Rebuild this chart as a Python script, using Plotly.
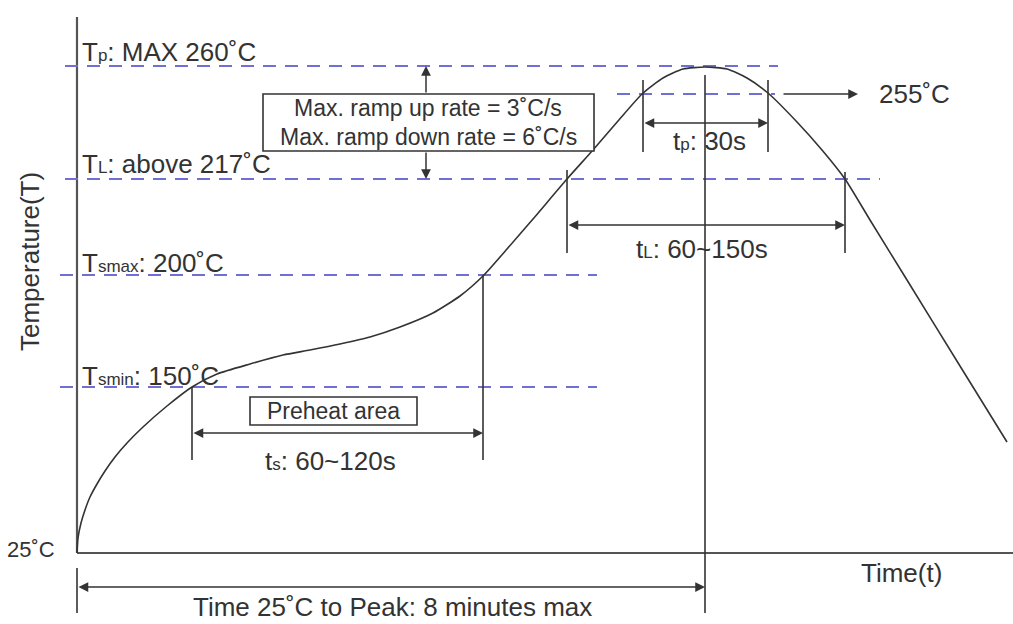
import plotly.graph_objects as go

# Schematic reflow profile: time units to the right of the origin,
# height units above the 25°C baseline (the drawing is not to scale).
profile_time = [0, 1, 4, 8, 13, 20, 28, 38, 50, 66, 90, 115, 140, 173, 206, 233, 263, 293, 323, 356, 383,
                407, 430, 456, 490, 516, 541, 566, 586, 606, 628, 650, 670, 691, 720, 745, 768, 793, 830, 883, 930]
profile_height = [0, 15, 30, 43, 56, 69, 82, 96, 110, 126, 147, 166, 179, 189, 198, 203, 209, 216, 226, 240, 257,
                  278, 304, 334, 374, 403, 432, 460, 475, 484, 486, 484, 475, 460, 431, 403, 374, 333, 273, 187, 111]

level_temps = [260, 255, 217, 200, 150]
level_height = [487, 459, 374, 278, 166]
level_from = [-12, 540, -12, -17, -17]
level_to = [701, 698, 803, 520, 520]

# key times on the schematic
t_smin, t_smax, t_L1, t_p1, t_peak, t_p2, t_L2 = 115, 406, 490, 566, 628, 691, 768

DASH = "#7070d4"
INK = "#333333"
AXIS = "#555555"
FONT = "Liberation Sans, Arial, sans-serif"
SUB = "font-size:17px"
DEG = "˚C"

fig = go.Figure()

# axes
fig.add_trace(go.Scatter(x=[0, 0], y=[536, 0], mode="lines", line=dict(color=AXIS, width=2.2), hoverinfo="skip"))
fig.add_trace(go.Scatter(x=[0, 936], y=[0, 0], mode="lines", line=dict(color=AXIS, width=2.2), hoverinfo="skip"))

# dashed temperature levels
for h, a, b in zip(level_height, level_from, level_to):
    fig.add_trace(go.Scatter(x=[a, b], y=[h, h], mode="lines",
                             line=dict(color=DASH, width=2, dash="13px,9px"), hoverinfo="skip"))

# vertical marker lines
verticals = [
    (t_smin, 166, 93), (t_smax, 278, 93),
    (t_L1, 383, 300), (t_L2, 381, 300),
    (t_p1, 473, 401), (t_p2, 473, 401),
    (t_peak, 478, -60), (0, -15, -60),
]
for x, y0, y1 in verticals:
    fig.add_trace(go.Scatter(x=[x, x], y=[y0, y1], mode="lines",
                             line=dict(color=INK, width=1.6), hoverinfo="skip"))

# profile curve
fig.add_trace(go.Scatter(x=profile_time, y=profile_height, mode="lines",
                         line=dict(color=INK, width=1.6, shape="spline", smoothing=0.6), hoverinfo="skip"))

# boxes
fig.add_shape(type="rect", x0=186, x1=517, y0=402, y1=459, line=dict(color=INK, width=1.6),
              fillcolor="white", layer="above")
fig.add_shape(type="rect", x0=173, x1=340, y0=128, y1=156, line=dict(color=INK, width=1.6),
              fillcolor="white", layer="above")


def arrow(x0, y0, x1, y1, both=False):
    fig.add_annotation(x=x1, y=y1, ax=x0, ay=y0, xref="x", yref="y", axref="x", ayref="y",
                       text="", showarrow=True, arrowhead=2, arrowsize=1.3, arrowwidth=1.5,
                       arrowcolor=INK, standoff=0, startstandoff=0,
                       arrowside="end+start" if both else "end", startarrowhead=2, startarrowsize=1.3)


arrow(t_smin, 120, t_smax, 120, both=True)
arrow(t_L1, 328, t_L2, 328, both=True)
arrow(t_p1, 430, t_p2, 430, both=True)
arrow(0, -34, t_peak, -34, both=True)
arrow(705, 459, 781, 459)
arrow(349, 459, 349, 487)
arrow(349, 402, 349, 374)


def label(x, y, text, size=26, xanchor="left", angle=0):
    fig.add_annotation(x=x, y=y, xref="x", yref="y", text=text, showarrow=False,
                       xanchor=xanchor, yanchor="middle", textangle=angle,
                       font=dict(family=FONT, size=size, color=INK))


label(3, 501, f"T<span style='{SUB}'>p</span>: MAX {level_temps[0]}{DEG}")
label(3, 389, f"T<span style='{SUB}'>L</span>: above {level_temps[2]}{DEG}")
label(3, 290, f"T<span style='{SUB}'>smax</span>: {level_temps[3]}{DEG}")
label(3, 177, f"T<span style='{SUB}'>smin</span>: {level_temps[4]}{DEG}")
label(800, 459, f"{level_temps[1]}{DEG}")
label(-20, 4, f"25{DEG}", size=22, xanchor="right")
label(-47, 291, "Temperature(T)", size=26, xanchor="center", angle=-90)
label(824, -20, "Time(t)", size=26, xanchor="center")
label(315, -54, f"Time 25{DEG} to Peak: 8 minutes max", size=26, xanchor="center")
label(253, 92, f"t<span style='{SUB}'>s</span>: 60~120s", size=26, xanchor="center")
label(256, 142, "Preheat area", size=23, xanchor="center")
label(625, 304, f"t<span style='{SUB}'>L</span>: 60~150s", size=26, xanchor="center")
label(632, 412, f"t<span style='{SUB}'>p</span>: 30s", size=26, xanchor="center")
label(351, 445, f"Max. ramp up rate = 3{DEG}/s", size=23, xanchor="center")
label(351, 416, f"Max. ramp down rate = 6{DEG}/s", size=23, xanchor="center")

fig.update_layout(
    width=1013, height=624, margin=dict(l=0, r=0, t=0, b=0),
    paper_bgcolor="white", plot_bgcolor="white", showlegend=False,
    xaxis=dict(range=[-77, 936], visible=False, fixedrange=True),
    yaxis=dict(range=[-71, 553], visible=False, fixedrange=True),
)

fig.write_html("out.html", config={"displayModeBar": False},
               post_script="document.body.style.margin='0';document.body.style.overflow='hidden';")
